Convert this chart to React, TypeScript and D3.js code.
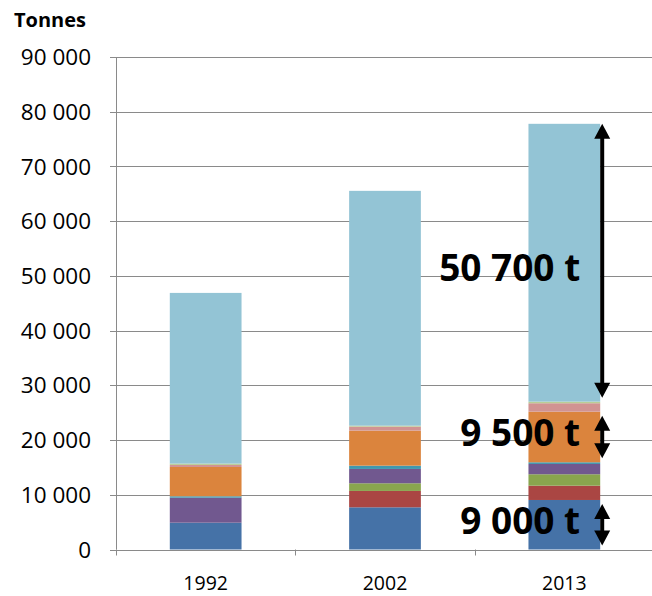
import React from "react";
import * as d3 from "d3";

const categories = ["1992", "2002", "2013"];
const seriesNames = ["s1", "s2", "s3", "s4", "s5", "s6", "s7", "s8", "s9"];
const seriesColors = ["#4572A7", "#AA4643", "#89A54E", "#71588F", "#4198AF", "#DB843D", "#D19392", "#B9CD96", "#93C4D5"];
const s1 = [4900, 7710, 9050];
const s2 = [0, 2990, 2610];
const s3 = [0, 1400, 2090];
const s4 = [4570, 2620, 1880];
const s5 = [260, 600, 310];
const s6 = [5350, 6400, 9250];
const s7 = [370, 730, 1540];
const s8 = [250, 180, 290];
const s9 = [31190, 42910, 50770];
const seriesValues = [s1, s2, s3, s4, s5, s6, s7, s8, s9];
const yTicks = [0, 10000, 20000, 30000, 40000, 50000, 60000, 70000, 80000, 90000];
const yTickLabels = ["0", "10 000", "20 000", "30 000", "40 000", "50 000", "60 000", "70 000", "80 000", "90 000"];
const annotations = [
  { label: "50 700 t", series: 8 },
  { label: "9 500 t", series: 5 },
  { label: "9 000 t", series: 0 },
];

const W = 652, H = 596;
const left = 116, right = 654, top = 57, bottom = 549.5;

export default function App() {
  const x = d3.scaleBand<string>().domain(categories).range([left, right]).paddingInner(0.6).paddingOuter(0.3);
  const y = d3.scaleLinear().domain([0, 90000]).range([bottom, top]);
  const rows = categories.map((c, i) => {
    const r: any = { cat: c };
    seriesNames.forEach((s, k) => (r[s] = seriesValues[k][i]));
    return r;
  });
  const stacked = d3.stack().keys(seriesNames)(rows);
  const font = "'Open Sans', sans-serif";
  const last = categories.length - 1;
  const arrowX = (x(categories[last]) as number) + x.bandwidth() + 2;

  const arrow = (y1: number, y2: number, key: string) => {
    const hw = 8, hh = 15;
    return (
      <g key={key}>
        <line x1={arrowX} x2={arrowX} y1={y1 + hh - 2} y2={y2 - hh + 2} stroke="#000" strokeWidth={4} />
        <path d={`M${arrowX},${y1} L${arrowX - hw},${y1 + hh} L${arrowX + hw},${y1 + hh} Z`} fill="#000" />
        <path d={`M${arrowX},${y2} L${arrowX - hw},${y2 - hh} L${arrowX + hw},${y2 - hh} Z`} fill="#000" />
      </g>
    );
  };

  return (
    <svg width={W} height={H} style={{ position: "absolute", left: 0, top: 0 }}>
      <rect width={W} height={H} fill="#fff" />
      <text x={14} y={27} fontFamily={font} fontWeight="bold" fontSize={20} fill="#000">Tonnes</text>
      {yTicks.map((t, i) => (
        <g key={t}>
          <line x1={left} x2={W} y1={Math.round(y(t)) + 0.5} y2={Math.round(y(t)) + 0.5} stroke="#8a8a8a" strokeWidth={1} />
          <line x1={left - 6} x2={left} y1={Math.round(y(t)) + 0.5} y2={Math.round(y(t)) + 0.5} stroke="#8a8a8a" strokeWidth={1} />
          <text x={91} y={y(t)} dy="0.36em" textAnchor="end" fontFamily={font} fontSize={22.5} fill="#000">{yTickLabels[i]}</text>
        </g>
      ))}
      <line x1={left + 0.5} x2={left + 0.5} y1={top} y2={bottom} stroke="#8a8a8a" strokeWidth={1} />
      {stacked.map((layer, k) => (
        <g key={layer.key} fill={seriesColors[k]}>
          {layer.map((d, i) => (
            <rect key={i} x={x(categories[i])} width={x.bandwidth()} y={y(d[1])} height={Math.max(0, y(d[0]) - y(d[1]))} />
          ))}
        </g>
      ))}
      <line x1={left} x2={W} y1={Math.round(bottom) + 0.5} y2={Math.round(bottom) + 0.5} stroke="#8a8a8a" strokeWidth={1} />
      {categories.map((c) => {
        const bx = (x(c) as number) - x.step() * x.paddingInner() / 2;
        return <line key={"t" + c} x1={Math.round(bx) + 0.5} x2={Math.round(bx) + 0.5} y1={bottom} y2={bottom + 6} stroke="#8a8a8a" />;
      })}
      {categories.map((c) => (
        <text key={c} x={(x(c) as number) + x.bandwidth() / 2} y={590} textAnchor="middle" fontFamily={font} fontSize={19.5} fill="#000">{c}</text>
      ))}
      {annotations.map((a, i) => {
        const seg = stacked[a.series][last];
        const y1 = y(seg[1]), y2 = y(seg[0]);
        const mid = (y1 + y2) / 2;
        const ty = i === 0 ? 268 : mid - 4;
        return (
          <g key={a.label}>
            {arrow(y1 + (i === 0 ? 0 : 4), y2 - 4, a.label)}
            <text x={arrowX - 22} y={ty} dy="0.36em" textAnchor="end" fontFamily={font} fontWeight="bold" fontSize={37} fill="#000">{a.label}</text>
          </g>
        );
      })}
    </svg>
  );
}
